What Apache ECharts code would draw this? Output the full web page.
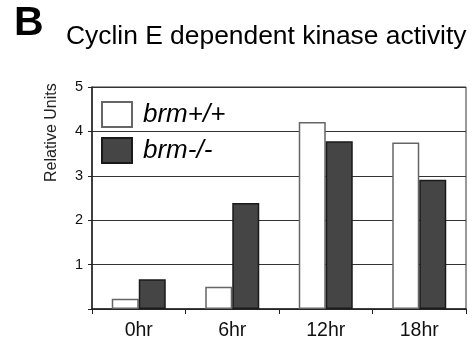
<!DOCTYPE html>
<html>
<head>
<meta charset="utf-8">
<script src="https://cdn.jsdelivr.net/npm/echarts@6/dist/echarts.min.js"></script>
<style>
  html, body { margin: 0; padding: 0; background: #fff; }
  #chart { width: 474px; height: 347px; }
</style>
</head>
<body>
<div id="chart"></div>
<script>
// Cyclin E dependent kinase activity, wild type vs brm knockout
const categories = ['0hr', '6hr', '12hr', '18hr'];
const wildType = [0.23, 0.50, 4.21, 3.75];   // brm+/+
const knockout = [0.67, 2.39, 3.78, 2.91];   // brm-/-
const yTicks = [1, 2, 3, 4, 5];

const FONT = 'Liberation Sans, Arial, Helvetica, sans-serif';

const chart = echarts.init(document.getElementById('chart'), null, { renderer: 'canvas' });

chart.setOption({
  animation: false,
  backgroundColor: '#fff',
  graphic: [
    {
      type: 'text', left: 14, top: 3,
      style: { text: 'B', font: 'bold 41px ' + FONT, fill: '#000' }
    },
    {
      type: 'text', left: 66, top: 24,
      style: { text: 'Cyclin E dependent kinase activity', font: '26.4px ' + FONT, fill: '#000' }
    },
    {
      type: 'text', x: 44, y: 182, rotation: Math.PI / 2,
      style: { text: 'Relative Units', font: '16px ' + FONT, fill: '#222' }
    }
  ],
  legend: {
    orient: 'vertical',
    left: 101, top: 101,
    padding: 0,
    itemWidth: 30, itemHeight: 25,
    itemGap: 9,
    icon: 'rect',
    textStyle: {
      fontFamily: FONT, fontSize: 26, fontStyle: 'italic', color: '#000',
      lineHeight: 25, padding: [0, 0, 0, 6]
    },
    data: ['brm+/+', 'brm-/-']
  },
  grid: {
    left: 92, right: 8, top: 87, bottom: 38,
    show: true, borderColor: '#333', borderWidth: 1
  },
  xAxis: {
    type: 'category',
    data: categories,
    axisLine: { lineStyle: { color: '#222', width: 1.5 } },
    axisTick: { show: true, interval: 0, length: 5, lineStyle: { color: '#222' } },
    axisLabel: { fontFamily: FONT, fontSize: 19.5, color: '#111', margin: 12 }
  },
  yAxis: {
    type: 'value',
    min: 0, max: 5, interval: 1,
    axisLine: { show: true, lineStyle: { color: '#222', width: 1.5 } },
    axisTick: { show: true, length: 4, lineStyle: { color: '#222' } },
    axisLabel: {
      fontFamily: FONT, fontSize: 14.5, color: '#111', margin: 9,
      formatter: v => (yTicks.includes(v) ? String(v) : '')
    },
    splitLine: { lineStyle: { color: '#333', width: 1 } }
  },
  series: [
    {
      name: 'brm+/+', type: 'bar', data: wildType,
      barWidth: 27, barGap: '0%',
      itemStyle: { color: '#ffffff', borderColor: '#666', borderWidth: 1.5 }
    },
    {
      name: 'brm-/-', type: 'bar', data: knockout,
      barWidth: 27,
      itemStyle: { color: '#454545', borderColor: '#1a1a1a', borderWidth: 1.5 }
    }
  ]
});
</script>
</body>
</html>
